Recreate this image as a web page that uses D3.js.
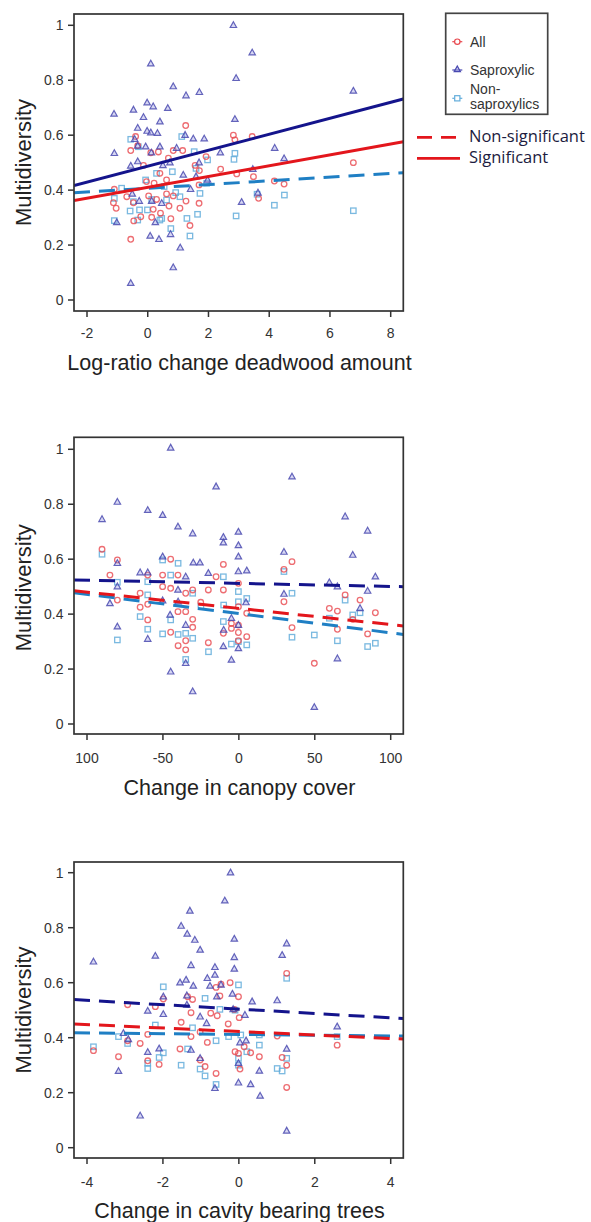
<!DOCTYPE html>
<html>
<head>
<meta charset="utf-8">
<script src="https://cdn.jsdelivr.net/npm/d3@7"></script>
<style>
  html, body { margin: 0; padding: 0; background: #fff; }
  svg { display: block; }
</style>
</head>
<body>
<div id="chart"></div>
<script>
// ---------------- DATA ----------------
// Panel 1: log-ratio change deadwood amount
const deadwoodSap = [[2.82,1.0],[3.44,0.90],[0.10,0.86],[2.91,0.807],[0.84,0.777],[1.26,0.744],[1.70,0.756],[6.77,0.761],
 [-1.11,0.677],[-0.47,0.692],[-0.02,0.718],[0.18,0.704],[0.66,0.698],[-0.14,0.665],[0.40,0.649],[2.87,0.658],
 [-0.33,0.626],[-0.02,0.615],[0.10,0.609],[0.32,0.607],[-0.43,0.585],[1.23,0.60],[1.50,0.587],[1.86,0.587],
 [-0.33,0.561],[-0.07,0.558],[0.40,0.558],[0.95,0.553],[4.18,0.553],[-1.10,0.534],[0.12,0.536],[2.39,0.536],
 [4.49,0.515],[-0.33,0.504],[-0.56,0.488],[1.69,0.50],[0.73,0.50],[0.50,0.49],[1.17,0.455],[1.59,0.449],
 [3.63,0.39],[-0.51,0.386],[1.41,0.403],[-0.28,0.36],[0.13,0.36],[0.46,0.352],[3.09,0.356],[-1.02,0.282],
 [0.25,0.282],[0.08,0.233],[0.37,0.221],[0.75,0.239],[1.07,0.19],[0.84,0.118],[-0.56,0.061],[1.97,0.437],[3.46,0.476]];
const deadwoodAll = [[1.25,0.635],[2.82,0.60],[2.87,0.583],[3.44,0.595],[-0.40,0.595],[-0.56,0.544],[-0.33,0.562],
 [0.10,0.536],[0.35,0.539],[1.15,0.544],[0.84,0.544],[-0.14,0.49],[0.68,0.516],[1.56,0.49],[1.92,0.522],[2.40,0.476],
 [2.93,0.459],[3.48,0.449],[1.70,0.471],[0.40,0.461],[-0.04,0.431],[0.21,0.425],[0.62,0.437],[-1.10,0.403],
 [-0.69,0.376],[0.03,0.379],[0.62,0.386],[0.84,0.379],[1.69,0.419],[4.17,0.433],[4.49,0.422],[3.65,0.37],[6.77,0.50],
 [-1.13,0.354],[-0.47,0.354],[0.29,0.366],[1.26,0.36],[1.69,0.352],[-1.04,0.334],[0.18,0.33],[1.06,0.334],[0.70,0.342],
 [-0.23,0.303],[0.13,0.301],[-0.46,0.288],[0.42,0.316],[0.76,0.296],[1.39,0.271],[-0.56,0.221]];
const deadwoodNon = [[-0.56,0.585],[1.12,0.595],[-0.31,0.558],[1.53,0.54],[1.97,0.51],[2.84,0.512],[2.87,0.534],
 [-0.07,0.437],[0.29,0.461],[0.81,0.467],[1.59,0.479],[-1.10,0.37],[-0.86,0.407],[0.54,0.413],[1.06,0.376],[1.72,0.388],
 [4.50,0.382],[3.60,0.385],[-0.58,0.324],[-0.27,0.328],[-0.01,0.328],[0.40,0.291],[0.62,0.364],[0.92,0.391],
 [-1.10,0.289],[-0.33,0.291],[1.29,0.297],[1.64,0.312],[0.76,0.26],[1.39,0.233],[2.91,0.306],[4.17,0.345],[6.77,0.325],
 [0.46,0.297],[0.13,0.366],[-0.47,0.358],[1.94,0.425]];
// fitted lines: [intercept, slope, significant]
const deadwoodFits = { sap: [0.487, 0.0291, true], all: [0.410, 0.0197, true], non: [0.407, 0.0067, false] };
const deadwoodTicks = [-2, 0, 2, 4, 6, 8];
const deadwoodTickLabels = ["-2", "0", "2", "4", "6", "8"];

// Panel 2: change in canopy cover
const canopySap = [[-44.9,1.005],[35,0.90],[-15,0.864],[-90.1,0.745],[-80,0.808],[-60,0.778],[-50.2,0.76],[-40.1,0.718],
 [-30.4,0.693],[-10.2,0.68],[-10.2,0.66],[-0.3,0.699],[-0.3,0.65],[-0.3,0.609],[-0.3,0.555],[5.2,0.558],[70,0.755],
 [75,0.615],[84.8,0.703],[89.9,0.536],[29.7,0.626],[29.7,0.473],[59.6,0.515],[64.9,0.50],[84.8,0.484],[79.8,0.421],
 [-50.2,0.609],[-65,0.551],[-60,0.551],[-30,0.587],[-25.6,0.587],[-20.1,0.549],[-80,0.585],[-80,0.50],[-84.9,0.439],
 [-80,0.354],[-60,0.309],[-50.2,0.449],[-45.3,0.397],[-40.1,0.488],[-35,0.536],[-35,0.36],[-35,0.221],[-44.9,0.19],
 [-30.4,0.118],[-10.2,0.282],[-4.9,0.233],[-4.9,0.385],[-0.3,0.275],[-0.3,0.36],[4.7,0.442],[49.7,0.061],[64.9,0.238],
 [-10,0.342],[-40,0.445]];
const canopyAll = [[-90.1,0.636],[-84.9,0.542],[-80,0.597],[-80,0.451],[-65,0.476],[-60,0.542],[-60,0.436],[-65,0.425],
 [-60,0.379],[-50.2,0.542],[-50.2,0.50],[-44.9,0.60],[-44.9,0.494],[-40.1,0.542],[-40.1,0.409],[-44.9,0.334],[-40,0.285],
 [-35,0.476],[-35,0.409],[-35,0.303],[-35,0.27],[-30.4,0.488],[-30.4,0.381],[-30.4,0.352],[-25.1,0.443],[-20.1,0.488],
 [-20.1,0.296],[-15,0.536],[-10.2,0.581],[-10.2,0.488],[-10.2,0.33],[-4.9,0.366],[-4.9,0.348],[-0.3,0.512],[-0.3,0.427],
 [-0.3,0.36],[-0.3,0.333],[-0.3,0.303],[5.2,0.403],[5.2,0.318],[29.7,0.563],[29.7,0.445],[35,0.591],[35,0.351],
 [49.7,0.221],[59.6,0.421],[64.9,0.411],[64.9,0.345],[70,0.47],[75,0.381],[79.8,0.451],[84.8,0.328],[89.9,0.405]];
const canopyNon = [[-90.1,0.618],[-80,0.306],[-80,0.516],[-65,0.391],[-60,0.518],[-60,0.345],[-60,0.47],[-50.2,0.597],
 [-50.2,0.328],[-44.9,0.542],[-44.9,0.379],[-40,0.585],[-40,0.326],[-35,0.33],[-35,0.235],[-30.4,0.476],[-30.4,0.312],
 [-25,0.427],[-20,0.263],[-10.2,0.536],[-10.2,0.373],[-4.9,0.291],[-0.3,0.482],[-0.3,0.445],[-0.3,0.30],[5.2,0.457],
 [5.2,0.288],[29.7,0.555],[35,0.476],[35,0.316],[49.7,0.324],[59.6,0.385],[64.9,0.303],[70,0.451],[75,0.397],
 [79.8,0.405],[84.8,0.282],[89.9,0.294],[-10,0.433]];
const canopyFits = { sap: [0.512, -0.000111, false], all: [0.421, -0.00059, false], non: [0.402, -0.0007, false] };
const canopyTicks = [-100, -50, 0, 50, 100];
const canopyTickLabels = ["100", "-50", "0", "50", "100"];

// Panel 3: change in cavity bearing trees
const cavitySap = [[-0.22,1.0],[-0.37,0.898],[-1.29,0.861],[-1.52,0.806],[-1.36,0.777],[-1.16,0.755],[-1.02,0.719],
 [-0.12,0.759],[-0.12,0.692],[-0.12,0.65],[-3.83,0.676],[-2.20,0.697],[-1.26,0.663],[-0.63,0.656],[-0.63,0.628],
 [1.26,0.742],[1.14,0.70],[-0.83,0.616],[-1.55,0.60],[-1.39,0.61],[-1.2,0.588],[-0.76,0.588],[-0.47,0.592],[-0.17,0.559],
 [-1.37,0.553],[-1.99,0.549],[-0.58,0.549],[0.35,0.531],[1.01,0.535],[-2.40,0.497],[-1.99,0.485],[-1.02,0.476],
 [-0.85,0.452],[-0.15,0.503],[0.16,0.482],[-1.37,0.519],[-3.04,0.416],[-2.91,0.394],[0.03,0.382],[0.19,0.389],
 [2.59,0.44],[-2.40,0.347],[-2.10,0.36],[-1.26,0.355],[-1.02,0.325],[1.26,0.359],[-3.17,0.278],[0.54,0.279],
 [-0.01,0.307],[-0.01,0.236],[0.31,0.23],[-0.63,0.216],[0.56,0.188],[-2.60,0.116],[1.26,0.061]];
const cavityAll = [[-3.83,0.353],[-3.17,0.331],[-2.93,0.52],[-2.93,0.389],[-2.60,0.379],[-2.40,0.412],[-2.40,0.316],
 [-2.20,0.513],[-2.10,0.303],[-1.99,0.541],[-1.55,0.359],[-1.52,0.456],[-1.35,0.549],[-1.26,0.491],[-1.22,0.539],
 [-1.26,0.404],[-1.02,0.421],[-1.02,0.319],[-0.89,0.295],[-0.83,0.383],[-0.74,0.489],[-0.60,0.583],[-0.6,0.27],
 [-0.47,0.595],[-0.23,0.60],[-0.5,0.552],[-0.57,0.48],[-0.28,0.45],[-0.12,0.503],[-0.01,0.549],[0.01,0.473],
 [-0.10,0.349],[-0.01,0.343],[0.03,0.286],[0.14,0.367],[0.31,0.345],[0.54,0.331],[1.01,0.406],[1.14,0.328],
 [1.26,0.634],[1.26,0.30],[1.26,0.219],[2.59,0.373]];
const cavityNon = [[-3.83,0.367],[-3.17,0.404],[-2.93,0.379],[-2.40,0.307],[-2.40,0.288],[-2.20,0.446],[-2.10,0.328],
 [-1.99,0.585],[-1.99,0.345],[-1.52,0.30],[-1.35,0.359],[-1.22,0.436],[-0.89,0.543],[-1.02,0.286],[-0.89,0.261],
 [-0.60,0.23],[-0.6,0.389],[-0.5,0.503],[-0.27,0.404],[-0.01,0.592],[-0.01,0.325],[-0.01,0.30],[-0.1,0.50],
 [0.21,0.349],[0.54,0.373],[0.54,0.41],[1.01,0.288],[1.14,0.279],[1.26,0.616],[1.26,0.325],[2.59,0.404],[0.05,0.41]];
const cavityFits = { sap: [0.504, -0.00796, false], all: [0.4225, -0.00634, false], non: [0.412, -0.00138, false] };
const cavityTicks = [-4, -2, 0, 2, 4];
const cavityTickLabels = ["-4", "-2", "0", "2", "4"];

const yTicks = [0, 0.2, 0.4, 0.6, 0.8, 1];
const yTickLabels = ["0", "0.2", "0.4", "0.6", "0.8", "1"];
const seriesNames = ["All", "Saproxylic", "Non-\nsaproxylics"];
const lineLegend = ["Non-significant", "Significant"];

// ---------------- LAYOUT ----------------
const W = 591, H = 1222;
const svg = d3.select("#chart").append("svg").attr("width", W).attr("height", H);

const colors = {
  all: "#e8494f", sap: "#4848b0", non: "#63addb",
  allLine: "#e3161c", sapLine: "#14148c", nonLine: "#1f7fc4"
};
const font = "'Liberation Sans', Arial, sans-serif";

const panels = [
  { title: "Log-ratio change deadwood amount", sap: deadwoodSap, all: deadwoodAll, non: deadwoodNon, fits: deadwoodFits,
    ticks: deadwoodTicks, tickLabels: deadwoodTickLabels, xdom: [-2, 8],
    frame: [74, 14, 403.3, 311], xr: [87, 390.7], yr: [300, 25.3], tickLabY: 338.3, titleY: 370, ylabY: 162.5 },
  { title: "Change in canopy cover", sap: canopySap, all: canopyAll, non: canopyNon, fits: canopyFits,
    ticks: canopyTicks, tickLabels: canopyTickLabels, xdom: [-100, 100],
    frame: [74, 437.3, 403.3, 734], xr: [87, 390.7], yr: [724, 449.3], tickLabY: 762.7, titleY: 795, ylabY: 587.7 },
  { title: "Change in cavity bearing trees", sap: cavitySap, all: cavityAll, non: cavityNon, fits: cavityFits,
    ticks: cavityTicks, tickLabels: cavityTickLabels, xdom: [-4, 4],
    frame: [74, 862, 403.3, 1158], xr: [87, 390.7], yr: [1147.7, 872.7], tickLabY: 1186.7, titleY: 1218, ylabY: 1010 }
];

function triPath(x, y, s) {
  const h = s * 0.9;
  return `M${x},${y - h * 0.62}L${x + s / 2},${y + h * 0.38}L${x - s / 2},${y + h * 0.38}Z`;
}

panels.forEach((p, i) => {
  const g = svg.append("g");
  const [fx0, fy0, fx1, fy1] = p.frame;
  const x = d3.scaleLinear().domain(p.xdom).range(p.xr);
  const y = d3.scaleLinear().domain([0, 1]).range(p.yr);

  const clipId = "clip" + i;
  svg.append("clipPath").attr("id", clipId).append("rect")
    .attr("x", fx0).attr("y", fy0).attr("width", fx1 - fx0).attr("height", fy1 - fy0);
  const plot = g.append("g").attr("clip-path", `url(#${clipId})`);

  plot.selectAll(".sq").data(p.non).join("rect")
    .attr("x", d => x(d[0]) - 2.7).attr("y", d => y(d[1]) - 2.7)
    .attr("width", 5.4).attr("height", 5.4)
    .attr("fill", "none").attr("stroke", colors.non).attr("stroke-width", 1.3).attr("opacity", 0.85);
  plot.selectAll(".ci").data(p.all).join("circle")
    .attr("cx", d => x(d[0])).attr("cy", d => y(d[1])).attr("r", 2.8)
    .attr("fill", "none").attr("stroke", colors.all).attr("stroke-width", 1.3).attr("opacity", 0.8);
  plot.selectAll(".tr").data(p.sap).join("path")
    .attr("d", d => triPath(x(d[0]), y(d[1]), 6.4))
    .attr("fill", "#9a9ae0").attr("fill-opacity", 0.45)
    .attr("stroke", colors.sap).attr("stroke-width", 1.2).attr("opacity", 0.85);

  const xa = x.invert(fx0), xb = x.invert(fx1);
  const lineDefs = [["non", colors.nonLine], ["all", colors.allLine], ["sap", colors.sapLine]];
  lineDefs.forEach(([k, c]) => {
    const [a, b, sig] = p.fits[k];
    plot.append("line")
      .attr("x1", x(xa)).attr("y1", y(a + b * xa))
      .attr("x2", x(xb)).attr("y2", y(a + b * xb))
      .attr("stroke", c).attr("stroke-width", 3)
      .attr("stroke-dasharray", sig ? null : "16,9");
  });

  g.append("rect").attr("x", fx0).attr("y", fy0).attr("width", fx1 - fx0).attr("height", fy1 - fy0)
    .attr("fill", "none").attr("stroke", "#333").attr("stroke-width", 1.7);

  g.selectAll(".xt").data(p.ticks).join("line")
    .attr("x1", d => x(d)).attr("x2", d => x(d)).attr("y1", fy1).attr("y2", fy1 + 6)
    .attr("stroke", "#333").attr("stroke-width", 1.5);
  g.selectAll(".xl").data(p.ticks).join("text")
    .attr("x", d => x(d)).attr("y", p.tickLabY).attr("text-anchor", "middle")
    .attr("font-family", font).attr("font-size", 14).attr("fill", "#333")
    .text((d, j) => p.tickLabels[j]);

  g.selectAll(".yt").data(yTicks).join("line")
    .attr("x1", fx0 - 6).attr("x2", fx0).attr("y1", d => y(d)).attr("y2", d => y(d))
    .attr("stroke", "#333").attr("stroke-width", 1.5);
  g.selectAll(".yl").data(yTicks).join("text")
    .attr("x", 63.5).attr("y", d => y(d) + 5).attr("text-anchor", "end")
    .attr("font-family", font).attr("font-size", 14).attr("fill", "#333")
    .text((d, j) => yTickLabels[j]);

  g.append("text").attr("x", 239.5).attr("y", p.titleY).attr("text-anchor", "middle")
    .attr("font-family", font).attr("font-size", 21.5).attr("fill", "#222").text(p.title);
  g.append("text").attr("transform", `translate(31,${p.ylabY}) rotate(-90)`).attr("text-anchor", "middle")
    .attr("font-family", font).attr("font-size", 22).attr("fill", "#222").text("Multidiversity");
});

// ---------------- LEGEND ----------------
const lg = svg.append("g");
lg.append("rect").attr("x", 445.7).attr("y", 13.3).attr("width", 102).attr("height", 101)
  .attr("fill", "#fff").attr("stroke", "#444").attr("stroke-width", 1.7);
const mx = 457.3;
lg.append("line").attr("x1", mx - 5).attr("x2", mx + 5).attr("y1", 41.7).attr("y2", 41.7).attr("stroke", colors.all).attr("stroke-width", 1.2);
lg.append("circle").attr("cx", mx).attr("cy", 41.7).attr("r", 2.7).attr("fill", "#fff").attr("stroke", colors.all).attr("stroke-width", 1.2);
lg.append("line").attr("x1", mx - 5).attr("x2", mx + 5).attr("y1", 70).attr("y2", 70).attr("stroke", colors.sap).attr("stroke-width", 1.2);
lg.append("path").attr("d", triPath(mx, 69.5, 6.2)).attr("fill", "#9a9ae0").attr("fill-opacity", 0.5).attr("stroke", colors.sap).attr("stroke-width", 1.2);
lg.append("line").attr("x1", mx - 5).attr("x2", mx + 5).attr("y1", 98.3).attr("y2", 98.3).attr("stroke", colors.non).attr("stroke-width", 1.2);
lg.append("rect").attr("x", mx - 2.6).attr("y", 95.7).attr("width", 5.2).attr("height", 5.2).attr("fill", "#fff").attr("stroke", colors.non).attr("stroke-width", 1.2);

const legText = lg.append("g").attr("font-family", font).attr("font-size", 14).attr("fill", "#333");
legText.append("text").attr("x", 470).attr("y", 46.7).text(seriesNames[0]);
legText.append("text").attr("x", 470).attr("y", 74.5).text(seriesNames[1]);
const nsLines = seriesNames[2].split("\n");
legText.append("text").attr("x", 470).attr("y", 93.5).text(nsLines[0]);
legText.append("text").attr("x", 470).attr("y", 108.5).text(nsLines[1]);

lg.append("line").attr("x1", 417).attr("x2", 460).attr("y1", 137.3).attr("y2", 137.3)
  .attr("stroke", colors.allLine).attr("stroke-width", 2.7).attr("stroke-dasharray", "15,9");
lg.append("line").attr("x1", 417).attr("x2", 460).attr("y1", 158.3).attr("y2", 158.3)
  .attr("stroke", colors.allLine).attr("stroke-width", 2.7);
lg.append("text").attr("x", 469).attr("y", 141.7).attr("font-family", "'Open Sans', sans-serif").attr("font-size", 16.5)
  .attr("fill", "#1c1c40").text(lineLegend[0]);
lg.append("text").attr("x", 469).attr("y", 163.3).attr("font-family", "'Open Sans', sans-serif").attr("font-size", 16.5)
  .attr("fill", "#1c1c40").text(lineLegend[1]);
</script>
</body>
</html>
